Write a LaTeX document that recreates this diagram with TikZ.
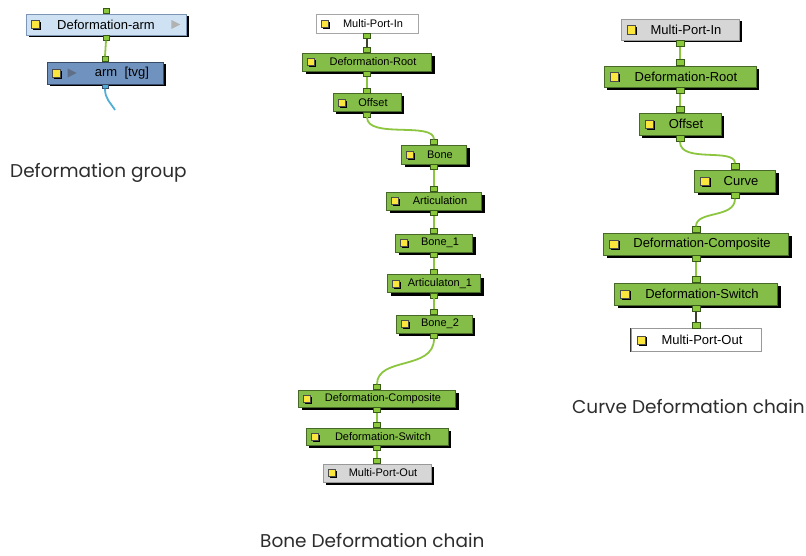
\documentclass[tikz,border=0pt]{standalone}
\usepackage{fontspec}
\setmainfont{Liberation Sans}
\newfontfamily\capfont{Poppins}
\usetikzlibrary{shadows}
\newcommand\myfs[1]{\fontsize{#1}{#1}\selectfont}
\definecolor{ndgreen}{RGB}{132,190,72}
\definecolor{ndborder}{RGB}{70,105,40}
\definecolor{wire}{RGB}{140,198,63}
\definecolor{portg}{RGB}{140,200,60}
\definecolor{portb}{RGB}{55,90,25}
\definecolor{iconY}{RGB}{250,230,60}
\definecolor{lightblue}{RGB}{207,226,243}
\definecolor{blueborder}{RGB}{125,150,180}
\definecolor{steel}{RGB}{112,146,190}
\definecolor{steelborder}{RGB}{55,75,105}
\definecolor{wireblue}{RGB}{80,175,215}
\definecolor{grayfill}{RGB}{214,214,214}
\definecolor{darkwire}{RGB}{60,65,50}
\definecolor{captxt}{RGB}{45,45,45}
\begin{document}
\begin{tikzpicture}[x=1pt,y=-1pt,
  shad/.style={drop shadow={shadow xshift=#1, shadow yshift=-#1, opacity=1, fill=black}},
  icon/.style 2 args={path picture={
     \fill[black] ([xshift={#2+1.6pt}, yshift=-1.6pt]path picture bounding box.west) ++(0pt,{-0.5*#1}) rectangle ++(#1,#1);
     \filldraw[fill=iconY, draw=black!70, line width=0.3pt] ([xshift=#2]path picture bounding box.west) ++(0pt,{-0.5*#1}) rectangle ++(#1,#1);}},
  basebox/.style={inner sep=0pt, line width=0.6pt, execute at begin node={\hspace*{12pt}}},
  gbox/.style={basebox, draw=ndborder, fill=ndgreen, shad=3pt},
  bonebox/.style={gbox, icon={7pt}{5pt}, font=\myfs{11}},
  curvebox/.style={gbox, icon={8.5pt}{6pt}, font=\myfs{13}},
  portsq/.style 2 args={draw=portb, fill=portg, line width=0.4pt, minimum width=#1, minimum height=#2, inner sep=0pt},
  bin/.style={portsq={7pt}{5pt}, anchor=south},
  bout/.style={portsq={7pt}{5pt}, anchor=north},
  cin/.style={portsq={8pt}{6pt}, anchor=south},
  cout/.style={portsq={8pt}{6pt}, anchor=north},
  wire/.style={draw=wire, line width=1.8pt},
  dwire/.style={draw=darkwire, line width=1.8pt},
  captext/.style={font=\capfont\myfs{18.5}, text=captxt, anchor=west, inner sep=0pt}
]
\useasboundingbox[fill=white] (0,0) rectangle (806,556);

% ---------------- Deformation group ----------------
\node[basebox, draw=blueborder, fill=lightblue, shad=2.5pt, icon={8pt}{5pt}, font=\myfs{13},
      minimum width=160pt, minimum height=21pt, execute at begin node={\hspace*{-12pt}}] (darm) at (106,24.5) {Deformation-arm};
\fill[gray!60] ([xshift=-15pt, yshift=4.5pt]darm.east) -- ++(9,4.5) -- ++(-9,4.5) -- cycle;
\node[basebox, draw=steelborder, fill=steel, shad=2.5pt, icon={8pt}{5pt}, font=\myfs{13},
      minimum width=116pt, minimum height=22pt, execute at begin node={\hspace*{22pt}}] (arm) at (105,73) {arm\ \ [tvg]};
\fill[steelborder!80] ([xshift=21pt, yshift=4.5pt]arm.west) -- ++(9,4.5) -- ++(-9,4.5) -- cycle;
\node[portsq={6pt}{5pt}, anchor=south] (darm-in) at (darm.north) {};
\node[portsq={6pt}{5pt}, anchor=north] (darm-out) at (darm.south) {};
\node[portsq={6pt}{5pt}, anchor=south] (arm-in) at (arm.north) {};
\node[draw=steelborder, fill=wireblue, line width=0.4pt, minimum width=6pt, minimum height=4pt, inner sep=0pt, anchor=north] (arm-out) at (arm.south) {};
\draw[wire] (darm-out.south) -- (arm-in.north);
\coordinate (armend) at (115,110);
\draw[draw=wireblue, line width=1.8pt] (arm-out.south) .. controls +(0,10) and +(-5,-8) .. (armend);
\node[captext] (capgroup) at (10,173) {Deformation group};

% ---------------- Bone Deformation chain ----------------
\node[basebox, draw=gray!70, fill=white, shad=1pt, icon={7pt}{5pt}, font=\myfs{11}, minimum width=102pt, minimum height=19pt] (bmpi) at (367,23.5) {Multi-Port-In};
\node[bonebox, minimum width=129pt, minimum height=18pt] (broot) at (367,62) {Deformation-Root};
\node[bonebox, minimum width=68pt, minimum height=18pt] (boff) at (367,102.5) {Offset};
\node[bonebox, minimum width=65pt, minimum height=19pt] (bbone) at (434,154.5) {Bone};
\node[bonebox, minimum width=95pt, minimum height=18pt] (bart) at (434,201) {Articulation};
\node[bonebox, minimum width=77pt, minimum height=18pt] (bb1) at (434,243) {Bone\_1};
\node[bonebox, minimum width=93pt, minimum height=18pt] (bart1) at (434,283.5) {Articulaton\_1};
\node[bonebox, minimum width=76pt, minimum height=18pt] (bb2) at (434,324) {Bone\_2};
\node[bonebox, minimum width=157pt, minimum height=17pt] (bcomp) at (377,398.5) {Deformation-Composite};
\node[bonebox, minimum width=142pt, minimum height=17pt] (bsw) at (377,436.5) {Deformation-Switch};
\node[basebox, draw=gray!80, fill=grayfill, shad=2.5pt, icon={7pt}{5pt}, font=\myfs{11}, minimum width=108pt, minimum height=18pt] (bmpo) at (377,473) {Multi-Port-Out};

\node[bout] (bmpi-out) at (bmpi.south) {};
\foreach \n in {broot,boff,bbone,bart,bb1,bart1,bb2,bcomp,bsw}{
  \node[bin] (\n-in) at (\n.north) {};
  \node[bout] (\n-out) at (\n.south) {};
}
\node[bin] (bmpo-in) at (bmpo.north) {};

\draw[dwire] (bmpi-out.south) -- (broot-in.north);
\draw[wire] (broot-out.south) -- (boff-in.north);
\draw[wire] (boff-out.south) .. controls +(0,22) and +(0,-18) .. (bbone-in.north);
\draw[wire] (bbone-out.south) -- (bart-in.north);
\draw[wire] (bart-out.south) -- (bb1-in.north);
\draw[wire] (bb1-out.south) -- (bart1-in.north);
\draw[wire] (bart1-out.south) -- (bb2-in.north);
\draw[wire] (bb2-out.south) .. controls +(0,32) and +(0,-28) .. (bcomp-in.north);
\draw[wire] (bcomp-out.south) -- (bsw-in.north);
\draw[wire] (bsw-out.south) -- (bmpo-in.north);
\node[captext] (capbone) at (260,541) {Bone Deformation chain};

% ---------------- Curve Deformation chain ----------------
\node[basebox, draw=gray!80, fill=grayfill, shad=2.5pt, icon={8.5pt}{6pt}, font=\myfs{13}, minimum width=118pt, minimum height=21pt] (cmpi) at (680,29.5) {Multi-Port-In};
\node[curvebox, minimum width=152pt, minimum height=21pt] (croot) at (680,76.5) {Deformation-Root};
\node[curvebox, minimum width=82pt, minimum height=22pt] (coff) at (680,124) {Offset};
\node[curvebox, minimum width=81pt, minimum height=22pt] (ccurve) at (735,181) {Curve};
\node[curvebox, minimum width=185pt, minimum height=22pt] (ccomp) at (696,244) {Deformation-Composite};
\node[curvebox, minimum width=163pt, minimum height=22pt] (csw) at (696,294) {Deformation-Switch};
\node[basebox, draw=gray!80, fill=white, icon={8.5pt}{6pt}, font=\myfs{13}, minimum width=130pt, minimum height=23pt] (cmpo) at (696,340) {Multi-Port-Out};
\draw[gray!40!black, line width=0.8pt] (cmpo.north west) -- (cmpo.south west);

\node[cout] (cmpi-out) at (cmpi.south) {};
\foreach \n in {croot,coff,ccurve,ccomp,csw}{
  \node[cin] (\n-in) at (\n.north) {};
  \node[cout] (\n-out) at (\n.south) {};
}
\node[cin] (cmpo-in) at (cmpo.north) {};

\draw[wire] (cmpi-out.south) -- (croot-in.north);
\draw[wire] (croot-out.south) -- (coff-in.north);
\draw[wire] (coff-out.south) .. controls +(0,22) and +(0,-16) .. (ccurve-in.north);
\draw[wire] (ccurve-out.south) .. controls +(0,20) and +(0,-16) .. (ccomp-in.north);
\draw[wire] (ccomp-out.south) -- (csw-in.north);
\draw[dwire] (csw-out.south) -- (cmpo-in.north);
\node[captext] (capcurve) at (572,407) {Curve Deformation chain};
\end{tikzpicture}
\end{document}
